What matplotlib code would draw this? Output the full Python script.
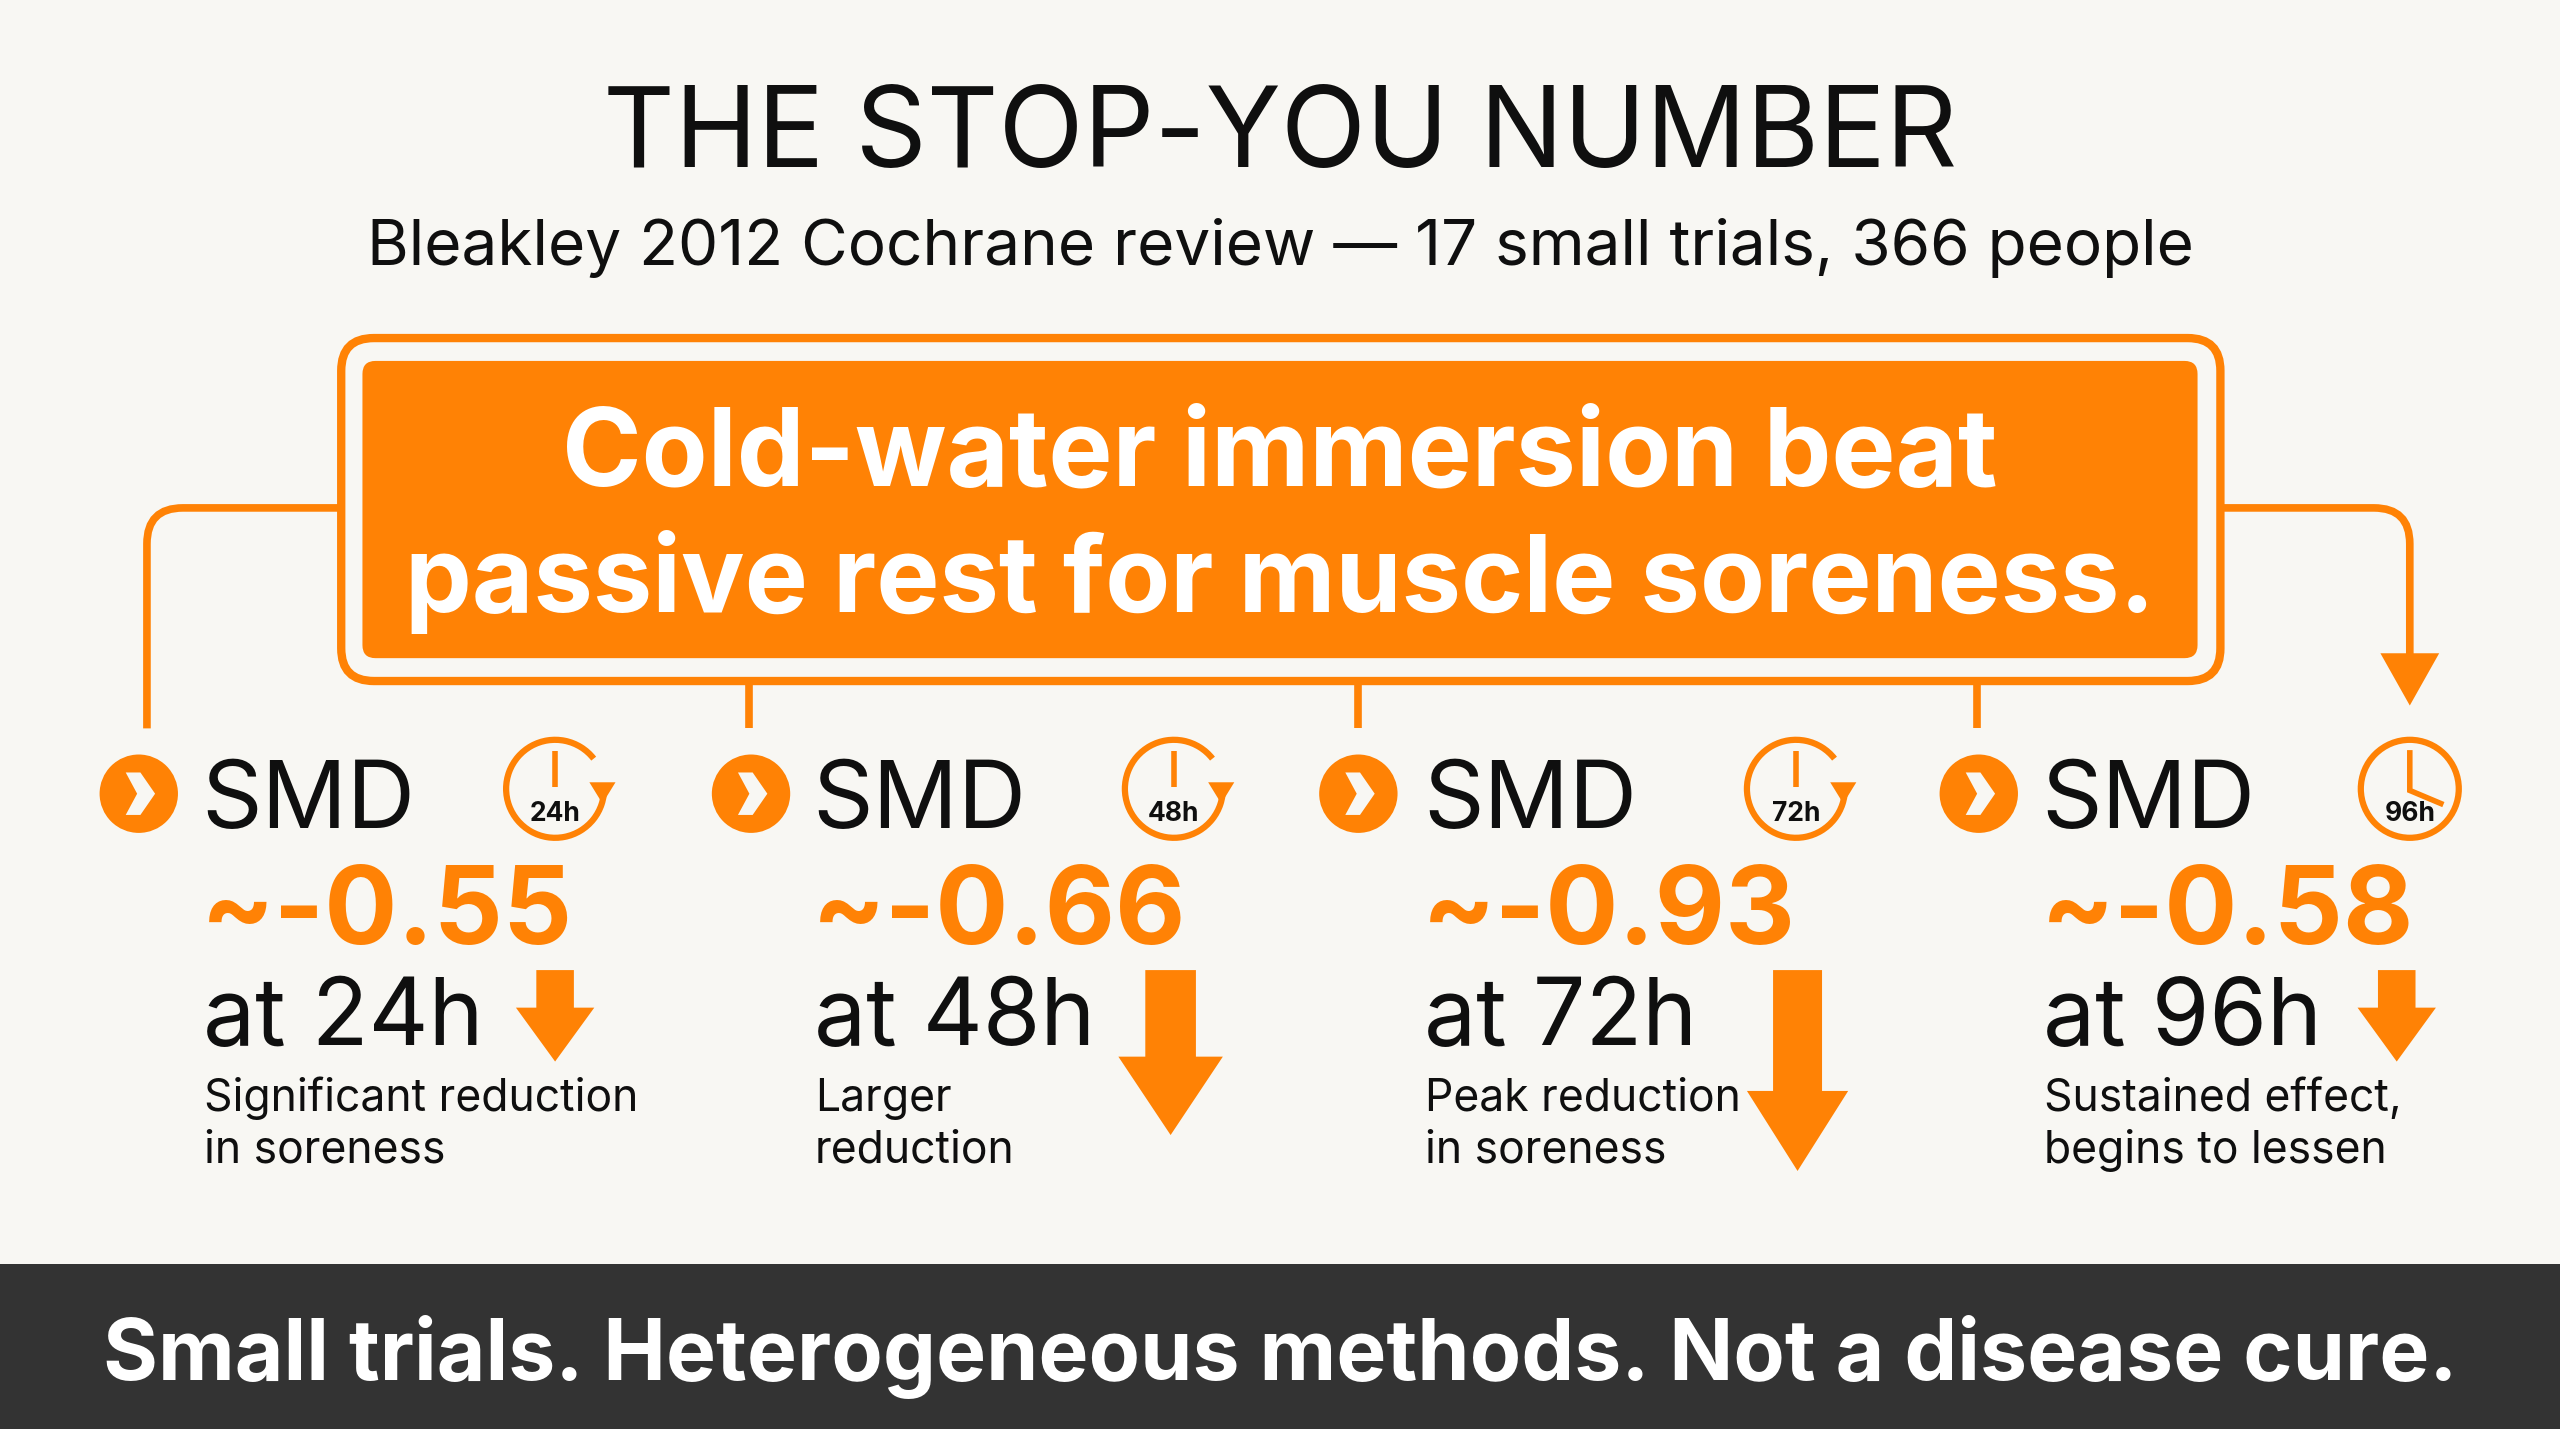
import matplotlib
matplotlib.use("Agg")
import matplotlib.pyplot as plt
from matplotlib.patches import Circle, Arc, FancyBboxPatch, Polygon, PathPatch
from matplotlib.path import Path

# --- data ---
smd_values = [-0.55, -0.66, -0.93, -0.58]
hours = [24, 48, 72, 96]
notes = [
    ["Significant reduction", "in soreness"],
    ["Larger", "reduction"],
    ["Peak reduction", "in soreness"],
    ["Sustained effect,", "begins to lessen"],
]
title = "THE STOP-YOU NUMBER"
subtitle = "Bleakley 2012 Cochrane review \u2014 17 small trials, 366 people"
headline = ["Cold-water immersion beat", "passive rest for muscle soreness."]
footer = "Small trials. Heterogeneous methods. Not a disease cure."

# --- layout, in units of a 1568 wide canvas ---
text_x = [125, 499, 873, 1252]
bullet_x = [85, 460, 832, 1212]
clock_x = [340, 719, 1100, 1476]
stub_x = [459, 832, 1211]
arrow_x = [340, 717, 1101, 1468]
arrow_halfw = [11.5, 15.5, 15, 11.5]
arrow_headw = [24, 32, 31, 24]
arrow_neck = [617, 647, 668, 617]
arrow_tip = [650, 695, 717, 650]

ORANGE = "#FF8205"
BG = "#F8F7F3"
DARK = "#333333"
INK = "#0F0F0F"
FONT = "Inter"

plt.rcParams["font.family"] = [FONT, "DejaVu Sans"]

fig = plt.figure(figsize=(25.6, 14.29), dpi=100, facecolor=BG)
ax = fig.add_axes([0, 0, 1, 1])
ax.set_xlim(0, 1568)
ax.set_ylim(875, 0)
ax.axis("off")


def label(x, y, s, size, color=INK, weight="normal", ha="left"):
    ax.text(x, y, s, fontsize=size, color=color, fontweight=weight, ha=ha, va="baseline")


# header
label(784, 102, title, 80, ha="center")
label(784, 162, subtitle, 46, ha="center")

# headline box
ax.add_patch(FancyBboxPatch((222, 221), 1124, 182, boxstyle="round,pad=0,rounding_size=8",
                            fc=ORANGE, ec="none"))
ax.add_patch(FancyBboxPatch((209, 207), 1151, 210, boxstyle="round,pad=0,rounding_size=20",
                            fc="none", ec=ORANGE, lw=6))
label(784, 297, headline[0], 77.5, color="white", weight="bold", ha="center")
label(784, 375, headline[1], 76.4, color="white", weight="bold", ha="center")

# connectors
left_path = Path([(207, 311), (112, 311), (90, 311), (90, 333), (90, 446)],
                 [Path.MOVETO, Path.LINETO, Path.CURVE3, Path.CURVE3, Path.LINETO])
right_path = Path([(1362, 311), (1454, 311), (1476, 311), (1476, 333), (1476, 402)],
                  [Path.MOVETO, Path.LINETO, Path.CURVE3, Path.CURVE3, Path.LINETO])
for p in (left_path, right_path):
    ax.add_patch(PathPatch(p, fc="none", ec=ORANGE, lw=5.5, capstyle="butt"))
ax.add_patch(Polygon([(1458, 400), (1494, 400), (1476, 432)], fc=ORANGE, ec="none"))
for x in stub_x:
    ax.plot([x, x], [418, 446], color=ORANGE, lw=5.5, solid_capstyle="butt")

# one column per time point
for i, v in enumerate(smd_values):
    tx = text_x[i]
    bx = bullet_x[i]
    ax.add_patch(Circle((bx, 486), 24, fc=ORANGE, ec="none"))
    ax.add_patch(Polygon([(bx - 8, 473), (bx + 1, 473), (bx + 10, 486), (bx + 1, 499),
                          (bx - 8, 499), (bx - 1, 486)], fc=BG, ec="none"))
    label(tx - 1.5, 507, "SMD", 68)
    label(tx - 2, 578, f"~{v:.2f}", 78, color=ORANGE, weight="bold")
    label(tx - 0.5, 640, f"at {hours[i]}h", 67)
    label(tx, 680, notes[i][0], 32)
    label(tx, 712, notes[i][1], 32)

    # clock
    cx = clock_x[i]
    if i < 3:
        ax.add_patch(Arc((cx, 483), 60, 60, theta1=-2, theta2=322, color=ORANGE, lw=4.5))
        ax.add_patch(Polygon([(cx + 21, 479), (cx + 37, 479), (cx + 29, 492)], fc=ORANGE, ec="none"))
        ax.plot([cx, cx], [460, 482], color=ORANGE, lw=4, solid_capstyle="butt")
    else:
        ax.add_patch(Circle((cx, 483), 30, fc="none", ec=ORANGE, lw=4.5))
        ax.plot([cx, cx, cx + 19], [461, 484, 492], color=ORANGE, lw=4, solid_joinstyle="miter")
    label(cx, 503, f"{hours[i]}h", 19, weight="bold", ha="center")

    # down arrow
    ax_, hw, hd, neck, tip = arrow_x[i], arrow_halfw[i], arrow_headw[i], arrow_neck[i], arrow_tip[i]
    ax.add_patch(Polygon([(ax_ - hw, 594), (ax_ + hw, 594), (ax_ + hw, neck), (ax_ + hd, neck),
                          (ax_, tip), (ax_ - hd, neck), (ax_ - hw, neck)], fc=ORANGE, ec="none"))

# footer band
ax.axhspan(774, 875, color=DARK, lw=0)
label(784, 845, footer, 60.5, color="white", weight="bold", ha="center")

fig.savefig("out.png", dpi=100, facecolor=BG)
